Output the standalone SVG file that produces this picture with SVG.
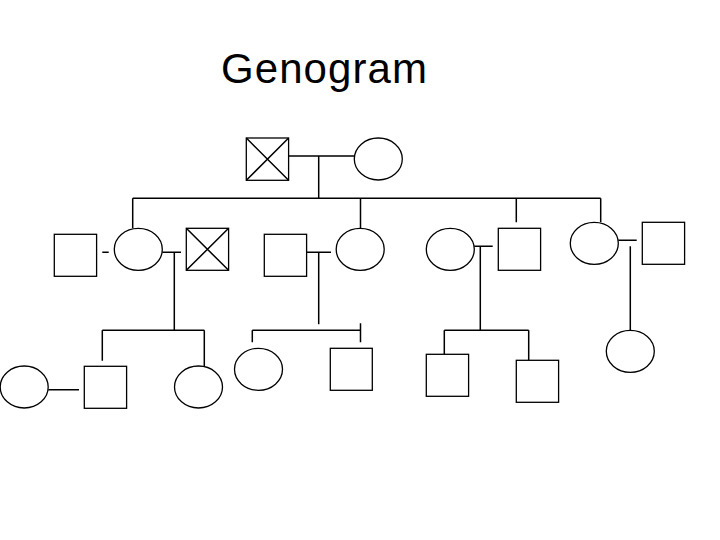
<svg xmlns="http://www.w3.org/2000/svg" width="720" height="540" viewBox="0 0 720 540">
<style>
.s{fill:#fff;stroke:#000;stroke-width:1.3}
.l{fill:none;stroke:#000;stroke-width:1.5}
.t{font-family:"Liberation Sans",Arial,sans-serif;font-size:42px;fill:#000}
</style>
<rect width="720" height="540" fill="#fff"/>
<text class="t" x="221" y="83" textLength="206" lengthAdjust="spacing">Genogram</text>
<g id="connectors">
<path class="l" d="M288.5 156H354M318.7 156V198.3M132.7 198.3H600.7M132.7 198.3V228.3M360.5 198.3V228.3M516.3 198.3V222.3M600.7 198.3V222.3"/>
<path class="l" d="M102.3 252.3H108.7M162.3 252.3H181M174.3 252.3V330.3M306.7 252.3H331M318.7 252.3V324.3M474.3 246.3H492.7M480.3 246.3V330.3M618.3 240.3H636.7M630.3 246.3V330.3"/>
<path class="l" d="M102.3 330.3H204.3M102.3 330.3V360.7M204.3 330.3V366.3M252.3 330.3H360.5M252.3 330.3V342.3M360.5 323.3V342.3M444.3 330.3H528.7M444.3 330.3V354.3M528.7 330.3V360.3M48.3 389.7H79"/>
</g>
<g id="gf"><rect class="s" x="246.3" y="138" width="42.3" height="42.3"/><path class="l" stroke-width="1" d="M246.3 138L288.6 180.3M288.6 138L246.3 180.3"/></g>
<g id="gm"><ellipse class="s" cx="378.3" cy="159" rx="24" ry="21"/></g>
<g id="p1"><rect class="s" x="54.3" y="234.3" width="42.3" height="42"/></g>
<g id="c1"><ellipse class="s" cx="138.3" cy="249.3" rx="24" ry="21"/></g>
<g id="p2"><rect class="s" x="186.3" y="228.3" width="42.3" height="42"/><path class="l" stroke-width="1" d="M186.3 228.3L228.6 270.3M228.6 228.3L186.3 270.3"/></g>
<g id="p3"><rect class="s" x="264.3" y="234.3" width="42.3" height="42"/></g>
<g id="c2"><ellipse class="s" cx="360.2" cy="249.3" rx="24" ry="21"/></g>
<g id="p4"><ellipse class="s" cx="450.3" cy="249.3" rx="24" ry="21"/></g>
<g id="c3"><rect class="s" x="498.3" y="228.3" width="42.3" height="42"/></g>
<g id="c4"><ellipse class="s" cx="594.3" cy="243.3" rx="24" ry="21"/></g>
<g id="p5"><rect class="s" x="642.3" y="222.3" width="42.3" height="42"/></g>
<g id="g1"><ellipse class="s" cx="24.2" cy="387" rx="24" ry="21"/></g>
<g id="g2"><rect class="s" x="84.3" y="366.3" width="42.3" height="42"/></g>
<g id="g3"><ellipse class="s" cx="198.5" cy="387" rx="24" ry="21"/></g>
<g id="g4"><ellipse class="s" cx="258.5" cy="369.3" rx="24" ry="21"/></g>
<g id="g5"><rect class="s" x="330.3" y="348.3" width="42" height="42"/></g>
<g id="g6"><rect class="s" x="426.3" y="354.3" width="42.3" height="42"/></g>
<g id="g7"><rect class="s" x="516.3" y="360.3" width="42.3" height="42"/></g>
<g id="g8"><ellipse class="s" cx="630.3" cy="351.3" rx="24" ry="21"/></g>
</svg>
